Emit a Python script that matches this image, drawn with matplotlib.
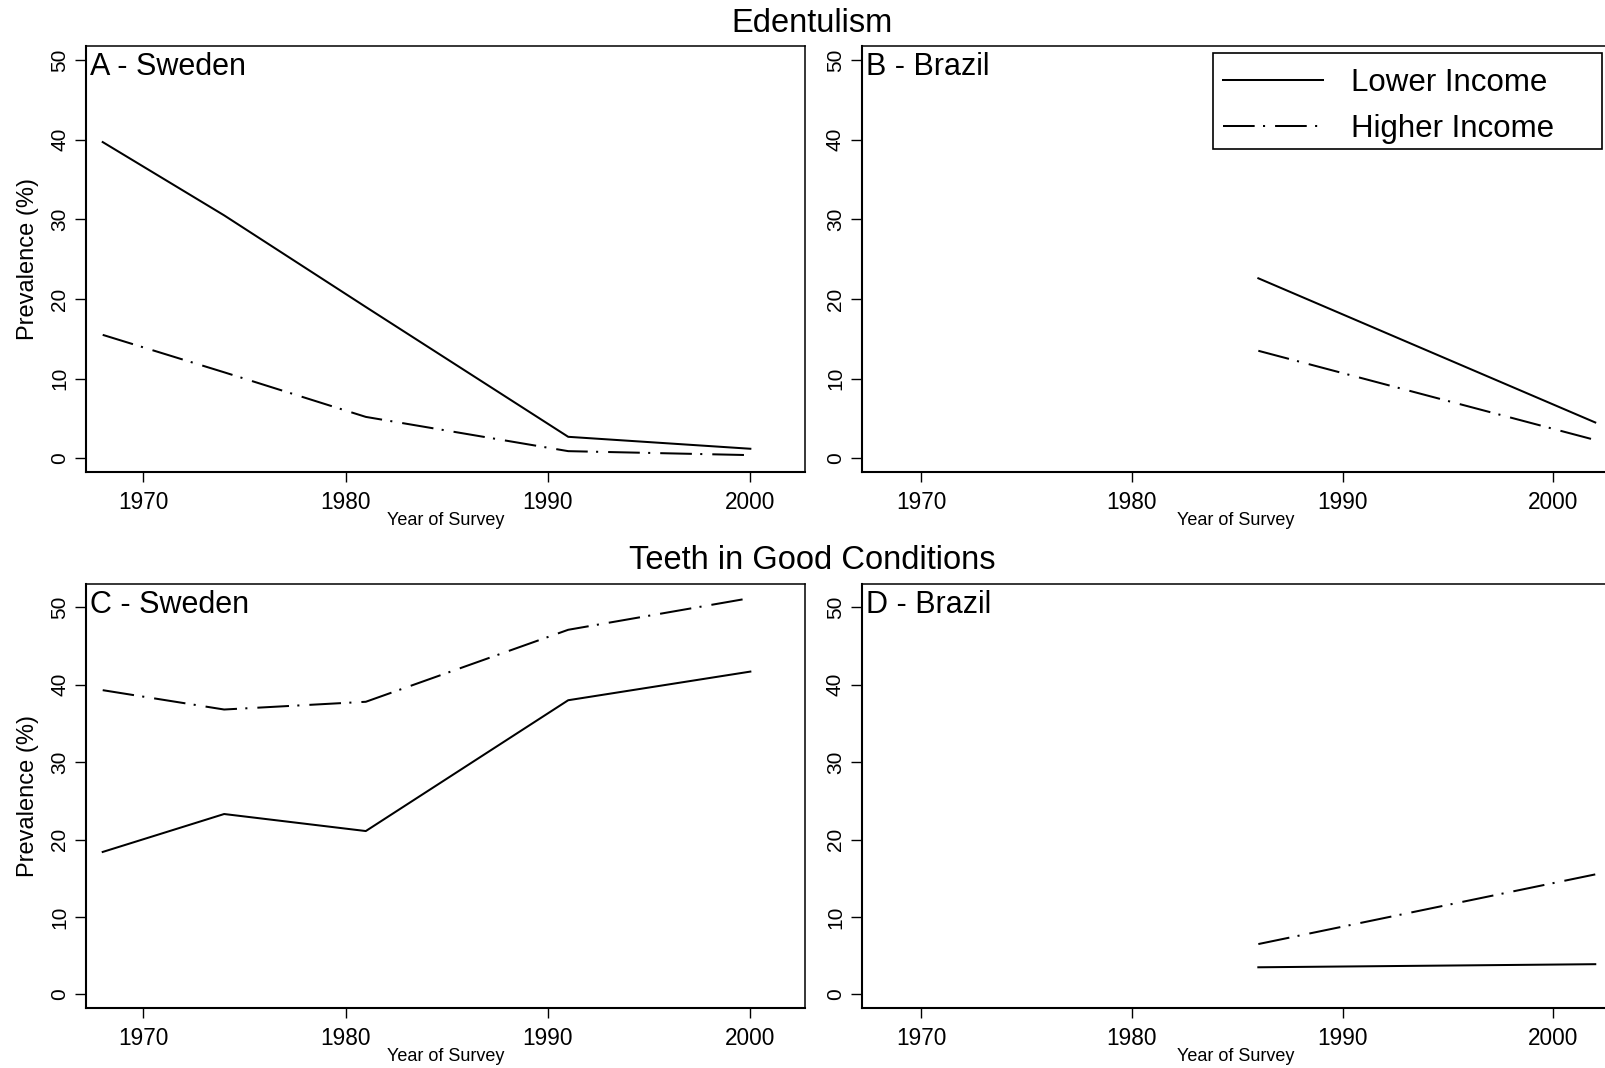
import matplotlib
matplotlib.use('Agg')
import matplotlib.pyplot as plt
from matplotlib.patches import Rectangle
from matplotlib.transforms import offset_copy

# survey years
years_sweden = [1968, 1974, 1981, 1991, 2000]
years_brazil = [1986, 2002]

# edentulism prevalence (%)
eden_sweden_low = [39.7, 30.5, 19.0, 2.7, 1.2]
eden_sweden_high = [15.5, 10.8, 5.2, 0.9, 0.4]
eden_brazil_low = [22.6, 4.5]
eden_brazil_high = [13.5, 2.3]

# teeth in good conditions prevalence (%)
good_sweden_low = [18.4, 23.3, 21.1, 38.0, 41.7]
good_sweden_high = [39.3, 36.8, 37.8, 47.1, 51.2]
good_brazil_low = [3.5, 3.9]
good_brazil_high = [6.5, 15.5]

series_names = ['Lower Income', 'Higher Income']
panel_labels = ['A - Sweden', 'B - Brazil', 'C - Sweden', 'D - Brazil']
row_titles = ['Edentulism', 'Teeth in Good Conditions']
x_ticks = [1970, 1980, 1990, 2000]
y_ticks = [0, 10, 20, 30, 40, 50]

W, H = 1605, 1068
plt.rcParams['font.family'] = ['Liberation Sans', 'DejaVu Sans']
plt.rcParams['lines.scale_dashes'] = False

fig = plt.figure(figsize=(W / 100, H / 100), dpi=100)

#axes placed in pixel coords (left, top, right, bottom)
def px_axes(left, top, right, bottom):
  return fig.add_axes([left / W, 1 - bottom / H, (right - left) / W, (bottom - top) / H])

dashdot = [22.8, 6.0, 1.5, 7.2]

def draw_panel(ax, yrs, low, high, label, ylim, with_ylabel):
  l1, = ax.plot(yrs, low, color='black', lw=1.45, label=series_names[0])
  l2, = ax.plot(yrs, high, color='black', lw=1.45, dashes=dashdot, label=series_names[1])
  ax.set_xlim(1967.16, 2002.7)
  ax.set_ylim(*ylim)
  ax.set_xticks(x_ticks)
  ax.set_yticks(y_ticks)
  ax.tick_params(axis='x', length=7.2, width=1.0, pad=6.5, labelsize=16.3, colors='black')
  ax.tick_params(axis='y', length=8, width=1.0, pad=4, labelsize=15, labelrotation=90, colors='black')
  plt.setp(ax.get_yticklabels(), va='center')
  for side in ['top', 'right']:
    ax.spines[side].set_linewidth(1.1)
  for side in ['bottom', 'left']:
    ax.spines[side].set_linewidth(1.5)
  bb = ax.get_position()
  h_px = bb.height * H
  w_px = bb.width * W
  ax.set_xlabel('Year of Survey', fontsize=13, va='center')
  ax.xaxis.set_label_coords(0.5, -48.5 / h_px)
  if with_ylabel:
    ax.set_ylabel('Prevalence (%)', fontsize=17, va='center')
    ax.yaxis.set_label_coords(-(85.7 - 27.6) / w_px, 0.5)
  tr = offset_copy(ax.transAxes, fig=fig, x=4, y=-6.2, units='dots')
  ax.text(0, 1, label, transform=tr, ha='left', va='top', fontsize=22)
  return l1, l2

ax_a = px_axes(85.7, 46, 805, 471.7)
ax_b = px_axes(861.6, 46, 1610, 471.7)
ax_c = px_axes(85.7, 583.5, 805, 1008)
ax_d = px_axes(861.6, 583.5, 1610, 1008)

ylim_top = (-1.68, 51.76)
ylim_bot = (-1.76, 53.08)

draw_panel(ax_a, years_sweden, eden_sweden_low, eden_sweden_high, panel_labels[0], ylim_top, True)
hb = draw_panel(ax_b, years_brazil, eden_brazil_low, eden_brazil_high, panel_labels[1], ylim_top, False)
draw_panel(ax_c, years_sweden, good_sweden_low, good_sweden_high, panel_labels[2], ylim_bot, True)
draw_panel(ax_d, years_brazil, good_brazil_low, good_brazil_high, panel_labels[3], ylim_bot, False)

#legend entries in panel B (frame drawn separately)
fs_leg = 22.5
leg = ax_b.legend(handles=list(hb), loc='upper left',
                  bbox_to_anchor=(1213 / W, 1 - 57.8 / H),
                  bbox_transform=fig.transFigure, borderaxespad=0,
                  fontsize=fs_leg, handlelength=100 / (fs_leg * 100 / 72),
                  handletextpad=28 / (fs_leg * 100 / 72),
                  borderpad=0.33, labelspacing=0.51, frameon=False)
fig.add_artist(Rectangle((1213 / W, 1 - 149 / H), 389 / W, 96.3 / H,
                         transform=fig.transFigure, fill=False,
                         edgecolor='black', linewidth=1.2))

#row titles
fig.text(812 / W, 1 - 31.7 / H, row_titles[0], ha='center', va='baseline', fontsize=23.5)
fig.text(812 / W, 1 - 569 / H, row_titles[1], ha='center', va='baseline', fontsize=23.5)

fig.savefig('out.png', dpi=100)
